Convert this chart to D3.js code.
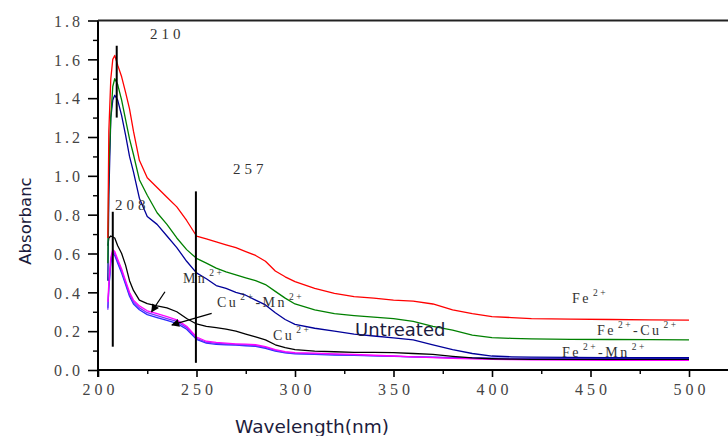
<!DOCTYPE html>
<html>
<head>
<meta charset="utf-8">
<script src="https://cdn.jsdelivr.net/npm/d3@7"></script>
<style>
  html, body { margin: 0; padding: 0; background: #fff; }
  svg { display: block; }
</style>
</head>
<body>
<svg id="chart" width="728" height="436"></svg>
<script>
// Wavelength grid (nm) shared by every spectrum
const wavelengths = [205, 205.5, 206.5, 207.5, 208.5, 210, 212, 214, 216, 218, 221, 225, 230, 235, 240, 245, 250, 255, 260, 265, 270, 275, 280, 285, 290, 295, 300, 310, 320, 330, 340, 350, 360, 370, 380, 390, 400, 410, 420, 440, 460, 480, 500];

// Absorbance of each sample on that grid
const absFe = [0.68, 1.23, 1.50, 1.60, 1.62, 1.57, 1.51, 1.43, 1.345, 1.23, 1.08, 0.99, 0.94, 0.89, 0.84, 0.77, 0.69, 0.675, 0.66, 0.645, 0.63, 0.61, 0.59, 0.56, 0.51, 0.48, 0.455, 0.42, 0.395, 0.378, 0.37, 0.36, 0.355, 0.34, 0.31, 0.29, 0.275, 0.27, 0.265, 0.262, 0.26, 0.258, 0.257];
const absFeCu = [0.55, 1.03, 1.30, 1.46, 1.50, 1.47, 1.39, 1.29, 1.19, 1.11, 0.98, 0.90, 0.81, 0.75, 0.68, 0.62, 0.575, 0.55, 0.525, 0.505, 0.49, 0.475, 0.46, 0.44, 0.405, 0.37, 0.34, 0.31, 0.29, 0.28, 0.272, 0.265, 0.25, 0.225, 0.205, 0.18, 0.167, 0.163, 0.16, 0.158, 0.157, 0.156, 0.155];
const absMn = [0.46, 0.90, 1.30, 1.39, 1.415, 1.39, 1.31, 1.21, 1.10, 1.02, 0.885, 0.79, 0.75, 0.69, 0.63, 0.56, 0.50, 0.47, 0.435, 0.42, 0.40, 0.385, 0.36, 0.335, 0.295, 0.26, 0.235, 0.215, 0.20, 0.185, 0.175, 0.165, 0.155, 0.13, 0.105, 0.085, 0.072, 0.068, 0.066, 0.065, 0.064, 0.063, 0.063];
const absCu = [0.64, 0.68, 0.69, 0.685, 0.68, 0.64, 0.60, 0.54, 0.46, 0.41, 0.36, 0.342, 0.33, 0.32, 0.30, 0.265, 0.237, 0.225, 0.218, 0.21, 0.20, 0.185, 0.17, 0.155, 0.13, 0.115, 0.105, 0.097, 0.094, 0.091, 0.091, 0.089, 0.085, 0.08, 0.07, 0.062, 0.058, 0.056, 0.055, 0.055, 0.055, 0.055, 0.055];
const absCuMn = [0.35, 0.45, 0.58, 0.62, 0.61, 0.57, 0.52, 0.46, 0.40, 0.36, 0.33, 0.305, 0.29, 0.275, 0.258, 0.225, 0.17, 0.148, 0.142, 0.138, 0.135, 0.133, 0.13, 0.12, 0.105, 0.095, 0.09, 0.087, 0.083, 0.08, 0.076, 0.072, 0.068, 0.064, 0.06, 0.057, 0.055, 0.053, 0.052, 0.051, 0.05, 0.05, 0.05];
const absFeMn = [0.31, 0.43, 0.56, 0.61, 0.60, 0.56, 0.51, 0.45, 0.39, 0.35, 0.32, 0.295, 0.28, 0.265, 0.25, 0.218, 0.163, 0.143, 0.137, 0.134, 0.131, 0.129, 0.126, 0.116, 0.101, 0.091, 0.086, 0.083, 0.08, 0.077, 0.074, 0.071, 0.068, 0.065, 0.062, 0.06, 0.058, 0.057, 0.056, 0.056, 0.055, 0.055, 0.055];
const absUntreated = [0.32, 0.42, 0.55, 0.60, 0.59, 0.55, 0.50, 0.44, 0.38, 0.34, 0.31, 0.285, 0.27, 0.255, 0.24, 0.21, 0.158, 0.138, 0.132, 0.13, 0.128, 0.125, 0.122, 0.112, 0.097, 0.088, 0.083, 0.08, 0.077, 0.075, 0.073, 0.07, 0.068, 0.066, 0.064, 0.062, 0.061, 0.06, 0.06, 0.06, 0.06, 0.06, 0.06];

// Axis ticks
const xMajorTicks = [200, 250, 300, 350, 400, 450, 500];
const xMinorTicks = [225, 275, 325, 375, 425, 475];
const yMajorTicks = [0, 0.2, 0.4, 0.6, 0.8, 1.0, 1.2, 1.4, 1.6, 1.8];
const yMinorTicks = [0.1, 0.3, 0.5, 0.7, 0.9, 1.1, 1.3, 1.5, 1.7];

// Peak wavelengths marked with vertical bars: [wavelength, from, to]
const peakBars = [[209.5, 1.30, 1.67], [207.5, 0.12, 0.815], [249.7, 0.037, 0.92]];

// ---------------------------------------------------------------
const svg = d3.select("#chart");
const x = d3.scaleLinear().domain([200, 520]).range([98, 728.4]);
const y = d3.scaleLinear().domain([0, 1.8]).range([370, 20.5]);

const series = [
  { values: absUntreated, color: "#2a2aff" },
  { values: absFeMn, color: "#7a30ff" },
  { values: absCuMn, color: "#ff00ff" },
  { values: absCu, color: "#000000" },
  { values: absMn, color: "#000099" },
  { values: absFeCu, color: "#008000" },
  { values: absFe, color: "#ff0000" }
];

const line = d3.line()
  .x((d, i) => x(wavelengths[i]))
  .y(d => y(d));

svg.append("g").selectAll("path")
  .data(series)
  .join("path")
  .attr("d", s => line(s.values))
  .attr("fill", "none")
  .attr("stroke", s => s.color)
  .attr("stroke-width", 1.3)
  .attr("stroke-linejoin", "round");

// Axes
const tickFont = "'Liberation Serif', 'Times New Roman', serif";

const yAxis = svg.append("g").attr("transform", "translate(98,0)")
  .call(d3.axisLeft(y).tickValues(yMajorTicks).tickSize(10).tickSizeOuter(0).tickPadding(5).tickFormat(d3.format(".1f")));
yAxis.select(".domain").remove();
yAxis.selectAll(".tick line").attr("stroke", "#000").attr("stroke-width", 1.6);
yAxis.selectAll(".tick text")
  .attr("font-family", tickFont).attr("font-size", 16).attr("letter-spacing", "3px")
  .attr("fill", "#444").attr("dy", "0.36em");

const yMinor = svg.append("g").attr("transform", "translate(98,0)")
  .call(d3.axisLeft(y).tickValues(yMinorTicks).tickSize(5).tickSizeOuter(0).tickFormat(""));
yMinor.select(".domain").remove();
yMinor.selectAll(".tick line").attr("stroke", "#000").attr("stroke-width", 1.4);

const xAxis = svg.append("g").attr("transform", "translate(0,370)")
  .call(d3.axisBottom(x).tickValues(xMajorTicks).tickSize(7).tickSizeOuter(0).tickFormat(d3.format("d")));
xAxis.select(".domain").remove();
xAxis.selectAll(".tick line").attr("stroke", "#000").attr("stroke-width", 1.6);
xAxis.selectAll(".tick text")
  .attr("font-family", tickFont).attr("font-size", 16).attr("letter-spacing", "4px")
  .attr("fill", "#444").attr("y", 25).attr("dy", 0).attr("dx", 2);

const xMinor = svg.append("g").attr("transform", "translate(0,370)")
  .call(d3.axisBottom(x).tickValues(xMinorTicks).tickSize(4).tickSizeOuter(0).tickFormat(""));
xMinor.select(".domain").remove();
xMinor.selectAll(".tick line").attr("stroke", "#000").attr("stroke-width", 1.4);

// Frame lines: left axis, bottom axis, top edge
svg.append("line").attr("x1", 98).attr("x2", 98).attr("y1", y(1.8)).attr("y2", 377)
  .attr("stroke", "#000").attr("stroke-width", 2);
svg.append("line").attr("x1", 98).attr("x2", 728).attr("y1", y(0)).attr("y2", y(0))
  .attr("stroke", "#000").attr("stroke-width", 2);
svg.append("line").attr("x1", 98).attr("x2", 728).attr("y1", y(1.8)).attr("y2", y(1.8))
  .attr("stroke", "#222").attr("stroke-width", 2);

// Axis titles
svg.append("text")
  .attr("transform", `translate(31,${221}) rotate(-90)`)
  .attr("text-anchor", "middle")
  .attr("font-family", "'DejaVu Sans', Verdana, sans-serif")
  .attr("font-size", 16.5)
  .attr("fill", "#1c1c3c")
  .text("Absorbanc");

svg.append("text")
  .attr("x", 312).attr("y", 433)
  .attr("text-anchor", "middle")
  .attr("font-family", "'DejaVu Sans', Verdana, sans-serif")
  .attr("font-size", 18.5)
  .attr("fill", "#1c1c3c")
  .text("Wavelength(nm)");

// Peak bars
svg.append("g").selectAll("line")
  .data(peakBars)
  .join("line")
  .attr("x1", d => x(d[0])).attr("x2", d => x(d[0]))
  .attr("y1", d => y(d[2])).attr("y2", d => y(d[1]))
  .attr("stroke", "#000").attr("stroke-width", 2);

// Arrows pointing at the lower spectra
svg.append("defs").append("marker")
  .attr("id", "arrowHead")
  .attr("viewBox", "0 0 10 10")
  .attr("refX", 9).attr("refY", 5)
  .attr("markerWidth", 9).attr("markerHeight", 8)
  .attr("markerUnits", "userSpaceOnUse")
  .attr("orient", "auto")
  .append("path").attr("d", "M0,0 L10,5 L0,10 Z").attr("fill", "#000");

const arrows = [[234, 0.403, 227.2, 0.300], [257.7, 0.292, 237.5, 0.232]];
svg.append("g").selectAll("line")
  .data(arrows)
  .join("line")
  .attr("x1", d => x(d[0])).attr("y1", d => y(d[1]))
  .attr("x2", d => x(d[2])).attr("y2", d => y(d[3]))
  .attr("stroke", "#000").attr("stroke-width", 1.3)
  .attr("marker-end", "url(#arrowHead)");

// Annotations; odd parts are superscripts
const serifLabels = [
  { parts: ["210"], w: 226.4, a: 1.703, num: true },
  { parts: ["257"], w: 268.5, a: 1.008, num: true },
  { parts: ["208"], w: 208.6, a: 0.823, num: true },
  { parts: ["Mn", "2+"], w: 243.1, a: 0.4475 },
  { parts: ["Cu", "2+", "-Mn", "2+"], w: 260.4, a: 0.324 },
  { parts: ["Cu", "2+"], w: 288.8, a: 0.154 },
  { parts: ["Fe", "2+"], w: 440.6, a: 0.345 },
  { parts: ["Fe", "2+", "-Cu", "2+"], w: 453.3, a: 0.18 },
  { parts: ["Fe", "2+", "-Mn", "2+"], w: 435.5, a: 0.067 }
];

serifLabels.forEach(lab => {
  const t = svg.append("text")
    .attr("x", x(lab.w)).attr("y", y(lab.a))
    .attr("font-family", tickFont)
    .attr("font-size", lab.num ? 15 : 14)
    .attr("letter-spacing", lab.num ? "4px" : "2.5px")
    .attr("fill", "#333");
  lab.parts.forEach((p, i) => {
    const sup = i % 2 === 1;
    const ts = t.append("tspan").text(p);
    if (sup) {
      ts.attr("font-size", 9.5).attr("dy", -7).attr("dx", 2);
    } else if (i > 0) {
      ts.attr("dy", 7);
    }
  });
});

svg.append("text")
  .attr("x", x(330.5)).attr("y", y(0.175))
  .attr("font-family", "'DejaVu Sans', Verdana, sans-serif")
  .attr("font-size", 18)
  .attr("fill", "#1c1c40")
  .text("Untreated");
</script>
</body>
</html>
